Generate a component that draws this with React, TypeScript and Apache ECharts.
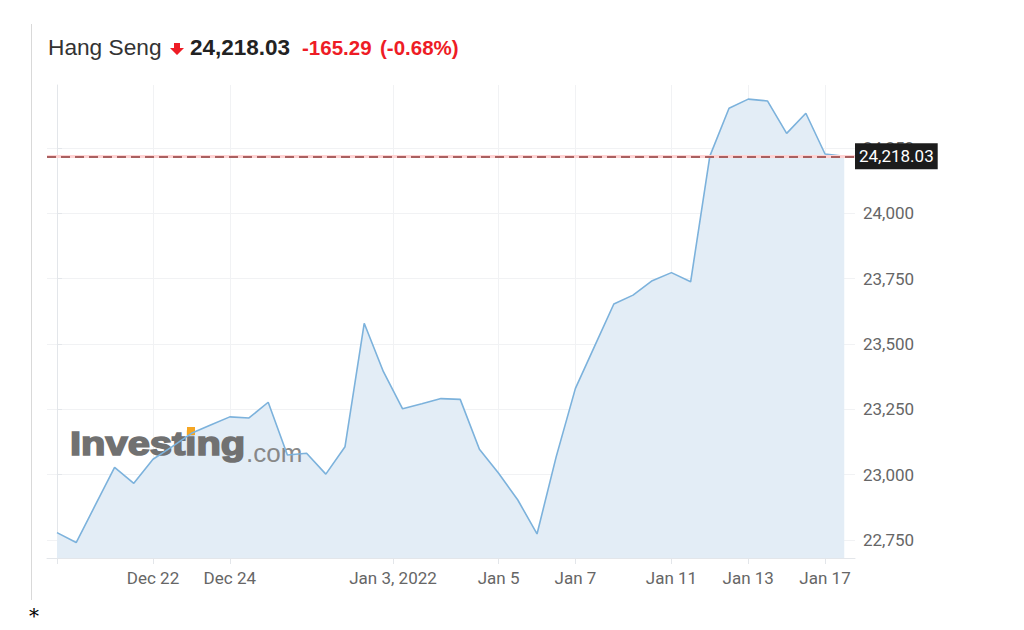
import React, { useEffect, useRef } from "react";
import * as echarts from "echarts";

// ---- data ----
const indexName = "Hang Seng";
const lastPrice = 24218.03;
const changeText = "-165.29";
const changePctText = "(-0.68%)";

const values: number[] = [
  22778, 22740, 22884, 23028, 22967, 23059, 23107, 23158, 23190, 23221,
  23217, 23277, 23075, 23082, 23002, 23107, 23579, 23394, 23252, 23271,
  23291, 23288, 23097, 23005, 22903, 22773, 23069, 23330, 23492, 23653,
  23687, 23742, 23773, 23738, 24219, 24402, 24437, 24430, 24306, 24383,
  24227, 24218.03,
];

const tickPositions: number[] = [0, 5, 9, 17.5, 23, 27, 32, 36, 40];
const tickLabels: string[] = ["", "Dec 22", "Dec 24", "Jan 3, 2022", "Jan 5", "Jan 7", "Jan 11", "Jan 13", "Jan 17"];
const yTicks: number[] = [22750, 23000, 23250, 23500, 23750, 24000, 24250];

const fmt = (v: number, d = 0) =>
  v.toLocaleString("en-US", { minimumFractionDigits: d, maximumFractionDigits: d });

export default function App() {
  const ref = useRef<HTMLDivElement>(null);

  useEffect(() => {
    if (!ref.current) return;
    const chart = echarts.init(ref.current, null, { renderer: "svg" });
    const seriesData = values.map((v, i) => [i, v]);

    const option: any = {
      animation: false,
      backgroundColor: "#ffffff",
      grid: { left: 47, right: 169, top: 85, bottom: 72, containLabel: false },
      xAxis: {
        type: "value",
        min: -0.52,
        max: 41.56,
        axisLine: { show: true, onZero: false, lineStyle: { color: "#e3e6ea", width: 1 } },
        axisTick: { show: true, length: 6, customValues: tickPositions, lineStyle: { color: "#e3e6ea" } },
        axisLabel: {
          show: true,
          customValues: tickPositions.slice(1),
          formatter: (v: number) => {
            const k = tickPositions.indexOf(v);
            return k >= 0 ? tickLabels[k] : "";
          },
          color: "#666",
          fontSize: 17,
          fontFamily: "Roboto",
          margin: 11,
        },
        splitLine: { show: true, lineStyle: { color: "#f1f2f4", width: 1 } },
      },
      yAxis: {
        type: "value",
        position: "right",
        min: 22681,
        max: 24491,
        axisLine: { show: true, lineStyle: { color: "#e3e6ea", width: 1 } },
        axisTick: { show: true, length: 5, customValues: yTicks, lineStyle: { color: "#e3e6ea" } },
        axisLabel: {
          show: true,
          customValues: yTicks,
          formatter: (v: number) => fmt(v),
          color: "#666",
          fontSize: 17,
          fontFamily: "Roboto",
          margin: 8,
        },
        splitLine: { show: true, lineStyle: { color: "#f1f2f4", width: 1 } },
      },
      graphic: [
        { type: "line", z: 10, shape: { x1: 31.5, y1: 24, x2: 31.5, y2: 600 }, style: { stroke: "#d9d9d9", lineWidth: 1 } },
        {
          type: "text", z: 10, x: 48, y: 47,
          style: { text: indexName, font: "22.7px 'Liberation Sans', Arial, sans-serif", fill: "#333", textVerticalAlign: "middle" },
        },
        {
          type: "polygon", z: 10,
          shape: { points: [[174, 43], [180, 43], [180, 48], [184, 48], [177, 55], [170, 48], [174, 48]] },
          style: { fill: "#ee1c25" },
        },
        {
          type: "text", z: 10, x: 190, y: 47,
          style: { text: fmt(lastPrice, 2), font: "bold 22.5px 'Liberation Sans', Arial, sans-serif", fill: "#222", textVerticalAlign: "middle" },
        },
        {
          type: "text", z: 10, x: 302, y: 47,
          style: { text: changeText, font: "bold 20.5px 'Liberation Sans', Arial, sans-serif", fill: "#ee1c25", textVerticalAlign: "middle" },
        },
        {
          type: "text", z: 10, x: 380, y: 47,
          style: { text: changePctText, font: "bold 20.5px 'Liberation Sans', Arial, sans-serif", fill: "#ee1c25", textVerticalAlign: "middle" },
        },
        // watermark
        {
          type: "text", z: 2, x: 70, y: 443.6, scaleX: 1.21,
          style: {
            text: "Investing",
            font: "bold 33px 'Liberation Sans', Arial, sans-serif",
            fill: "#717171",
            stroke: "#717171",
            lineWidth: 1.6,
            textVerticalAlign: "middle",
          },
        },
        { type: "rect", z: 2, shape: { x: 187, y: 427, width: 8, height: 8 }, style: { fill: "#f5a623" } },
        {
          type: "text", z: 2, x: 246, y: 452.7,
          style: { text: ".com", font: "26px 'Liberation Sans', Arial, sans-serif", fill: "#888", textVerticalAlign: "middle" },
        },
        {
          type: "text", z: 10, x: 29, y: 606,
          style: { text: "*", font: "20px 'DejaVu Serif', 'Liberation Serif', serif", fill: "#000", textVerticalAlign: "top" },
        },
      ],
      series: [
        {
          type: "line",
          z: 1,
          data: seriesData,
          symbol: "none",
          lineStyle: { width: 0, opacity: 0 },
          areaStyle: { color: "#e3edf6", opacity: 1, origin: "start" },
          silent: true,
        },
        {
          type: "line",
          z: 3,
          data: seriesData,
          symbol: "none",
          lineStyle: { color: "#7cb2dc", width: 1.6 },
          silent: true,
          markLine: {
            symbol: "none",
            silent: true,
            data: [
              { yAxis: lastPrice, lineStyle: { color: "#ffd3d3", width: 3, type: "solid" }, label: { show: false } },
              {
                yAxis: lastPrice,
                lineStyle: { color: "#8e3b3b", width: 1.5, type: [9, 5] },
                label: {
                  show: true,
                  position: "end",
                  distance: 0,
                  formatter: () => fmt(lastPrice, 2),
                  backgroundColor: "#1c1c1c",
                  color: "#fff",
                  padding: [3, 4, 3, 4],
                  fontSize: 17,
                  lineHeight: 20,
                  fontFamily: "Roboto",
                },
              },
            ],
          },
        },
      ],
    };

    chart.setOption(option);
    return () => chart.dispose();
  }, []);

  return (
    <div
      ref={ref}
      style={{ position: "absolute", left: 0, top: 0, width: 1024, height: 630 }}
    />
  );
}
